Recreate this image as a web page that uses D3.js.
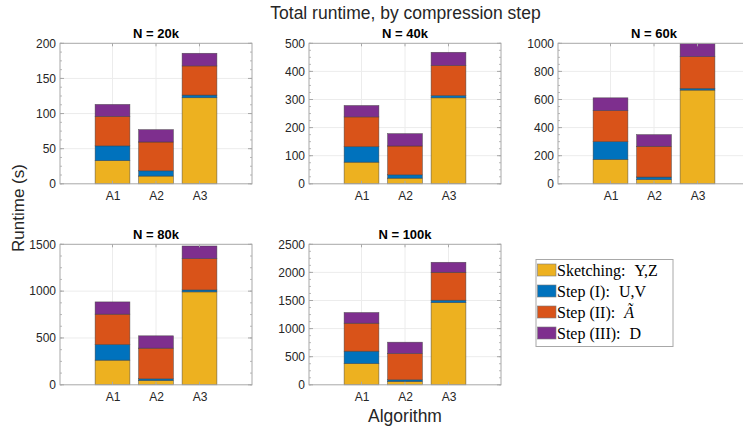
<!DOCTYPE html>
<html>
<head>
<meta charset="utf-8">
<script src="https://cdn.jsdelivr.net/npm/d3@7"></script>
<style>
  html, body { margin: 0; padding: 0; background: #fff; }
  svg { display: block; }
</style>
</head>
<body>
<svg id="chart" width="743" height="431"></svg>
<script>
// ---- data ----
const algorithms = ["A1", "A2", "A3"];
const stepLabels = ["Sketching:", "Step (I):", "Step (II):", "Step (III):"];
const stepVars = ["Y,Z", "U,V", "Ã", "D"];
const panelTitles = ["N = 20k", "N = 40k", "N = 60k", "N = 80k", "N = 100k"];
const yMax = [200, 500, 1000, 1500, 2500];
const yTickStep = [50, 100, 200, 500, 500];
// per-panel step times, rows = panel, cols = algorithm (A1,A2,A3)
const sketching = [[33, 11, 122.5], [77, 20, 306], [174, 31, 667], [263, 46, 992], [379, 59, 1463]];
const stepI     = [[21, 7.5, 3.8], [55, 12, 8], [126, 17, 12], [167, 18, 21], [219, 30, 42]];
const stepII    = [[42, 41, 41.5], [106, 102.5, 107], [221, 219, 226], [324, 327, 334], [498, 468, 497]];
const stepIII   = [[17, 17.6, 18], [40.6, 44, 47], [91, 83, 93], [131, 132, 135], [190, 201, 178]];

const colors = ["#EDB120", "#0072BD", "#D95319", "#7E2F8E"];

const svg = d3.select("#chart");
const cols = [60, 309, 558];
const rows = [43.3, 244.3];
const W = 192, H = 140.5;
const tickColor = "#262626";
const boxColor = "#a8a8a8";
const gridColor = "#ececec";
const sans = "Liberation Sans, Arial, sans-serif";

// main title and axis labels
svg.append("text").attr("x", 405.5).attr("y", 19).attr("text-anchor", "middle")
  .attr("font-family", sans).attr("font-size", 17.5).attr("fill", tickColor)
  .text("Total runtime, by compression step");
svg.append("text").attr("transform", "translate(24,208) rotate(-90)").attr("text-anchor", "middle")
  .attr("font-family", sans).attr("font-size", 17).attr("fill", tickColor)
  .text("Runtime (s)");
svg.append("text").attr("x", 405).attr("y", 422).attr("text-anchor", "middle")
  .attr("font-family", sans).attr("font-size", 17.5).attr("fill", tickColor)
  .text("Algorithm");

panelTitles.forEach((title, p) => {
  const x0 = cols[p % 3], y0 = rows[Math.floor(p / 3)];
  const g = svg.append("g").attr("transform", `translate(${x0},${y0})`);
  const x = d3.scaleLinear().domain([2 - 2.207, 2 + 2.207]).range([0, W]);
  const y = d3.scaleLinear().domain([0, yMax[p]]).range([H, 0]);
  const ticks = d3.range(0, yMax[p] + 1e-9, yTickStep[p]);
  const minor = d3.range(0, yMax[p] + 1e-9, yTickStep[p] / 4);

  // grid
  g.selectAll(".gy").data(ticks.slice(1, -1)).enter().append("line")
    .attr("x1", 0).attr("x2", W).attr("y1", d => y(d)).attr("y2", d => y(d))
    .attr("stroke", gridColor).attr("stroke-width", 1);
  g.selectAll(".gx").data(algorithms).enter().append("line")
    .attr("x1", (d, i) => x(i + 1)).attr("x2", (d, i) => x(i + 1)).attr("y1", 0).attr("y2", H)
    .attr("stroke", gridColor).attr("stroke-width", 1);

  // bars
  const series = [sketching[p], stepI[p], stepII[p], stepIII[p]];
  const bw = x(0.8) - x(0);
  algorithms.forEach((a, i) => {
    let base = 0;
    series.forEach((s, k) => {
      const v = s[i];
      g.append("rect")
        .attr("x", x(i + 1) - bw / 2).attr("width", bw)
        .attr("y", y(base + v)).attr("height", y(base) - y(base + v))
        .attr("fill", colors[k]).attr("stroke", "#3c3c3c").attr("stroke-width", 0.6).attr("stroke-opacity", 0.75);
      base += v;
    });
  });

  // box
  g.append("rect").attr("x", 0).attr("y", 0).attr("width", W).attr("height", H)
    .attr("fill", "none").attr("stroke", boxColor).attr("stroke-width", 1);

  // minor ticks (inside, left & right)
  minor.forEach(m => {
    [[0, 2], [W, W - 2]].forEach(([a, b]) => {
      g.append("line").attr("x1", a).attr("x2", b).attr("y1", y(m)).attr("y2", y(m))
        .attr("stroke", boxColor).attr("stroke-width", 0.8);
    });
  });
  // major ticks inside
  ticks.forEach(t => {
    [[0, 4], [W, W - 4]].forEach(([a, b]) => {
      g.append("line").attr("x1", a).attr("x2", b).attr("y1", y(t)).attr("y2", y(t))
        .attr("stroke", boxColor).attr("stroke-width", 1);
    });
  });
  algorithms.forEach((a, i) => {
    g.append("line").attr("x1", x(i + 1)).attr("x2", x(i + 1)).attr("y1", H).attr("y2", H - 3)
      .attr("stroke", boxColor).attr("stroke-width", 1);
    g.append("line").attr("x1", x(i + 1)).attr("x2", x(i + 1)).attr("y1", 0).attr("y2", 3)
      .attr("stroke", boxColor).attr("stroke-width", 1);
  });

  // y axis labels
  const yAxis = d3.axisLeft(y).tickValues(ticks).tickSize(0).tickPadding(4).tickFormat(d3.format("d"));
  const ya = g.append("g").call(yAxis);
  ya.select(".domain").remove();
  ya.selectAll("text").attr("font-family", sans).attr("font-size", 12).attr("fill", tickColor);

  // x axis labels
  const xAxis = d3.axisBottom(x).tickValues([1, 2, 3]).tickSize(0).tickPadding(8).tickFormat((d, i) => algorithms[i]);
  const xa = g.append("g").attr("transform", `translate(0,${H})`).call(xAxis);
  xa.select(".domain").remove();
  xa.selectAll("text").attr("font-family", sans).attr("font-size", 12).attr("fill", tickColor);

  // panel title
  g.append("text").attr("x", W / 2).attr("y", -5.5).attr("text-anchor", "middle")
    .attr("font-family", sans).attr("font-size", 13).attr("font-weight", "bold")
    .attr("fill", "#000").text(title);
});

// legend
const lg = svg.append("g").attr("transform", "translate(536,259.5)");
lg.append("rect").attr("x", 0).attr("y", 0).attr("width", 137).attr("height", 87)
  .attr("fill", "#fff").attr("stroke", boxColor).attr("stroke-width", 1);
stepLabels.forEach((name, k) => {
  const cy = 10.5 + k * 21;
  lg.append("rect").attr("x", 1.5).attr("y", cy - 6).attr("width", 18.5).attr("height", 12)
    .attr("fill", colors[k]).attr("stroke", "#7a7a7a").attr("stroke-width", 0.6);
  const t = lg.append("text").attr("x", 21).attr("y", cy + 5.5)
    .attr("font-family", "Liberation Serif, Times New Roman, serif").attr("font-size", 16).attr("fill", "#000");
  t.append("tspan").text(name);
  t.append("tspan").attr("dx", 9).attr("font-style", k === 2 ? "italic" : "normal").text(stepVars[k]);
});
</script>
</body>
</html>
